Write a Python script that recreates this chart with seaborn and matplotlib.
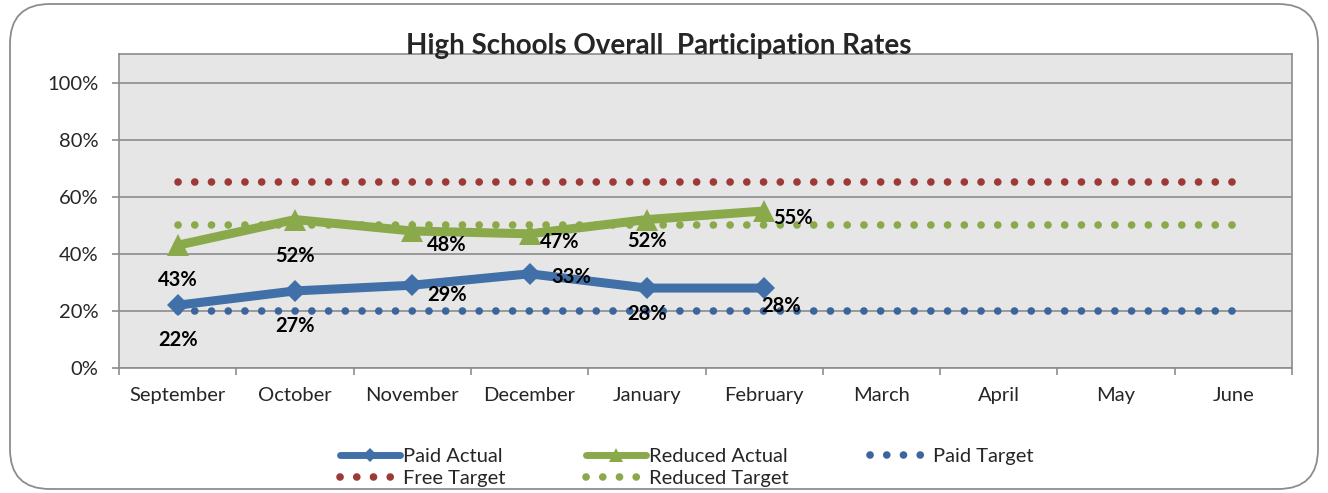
import numpy as np
import pandas as pd
import matplotlib
matplotlib.use('Agg')
import matplotlib.pyplot as plt
import seaborn as sns
from matplotlib.patches import FancyBboxPatch
from matplotlib.ticker import FixedLocator, PercentFormatter

# data
months = ['September', 'October', 'November', 'December', 'January',
          'February', 'March', 'April', 'May', 'June']
paid_actual = [0.22, 0.27, 0.29, 0.33, 0.28, 0.28]
reduced_actual = [0.43, 0.52, 0.48, 0.47, 0.52, 0.55]
paid_target = [0.20, 0.20, 0.20, 0.20, 0.20, 0.20, 0.20, 0.20, 0.20, 0.20]
free_target = [0.65, 0.65, 0.65, 0.65, 0.65, 0.65, 0.65, 0.65, 0.65, 0.65]
reduced_target = [0.50, 0.50, 0.50, 0.50, 0.50, 0.50, 0.50, 0.50, 0.50, 0.50]

BLUE = '#4170a8'
GREEN = '#8aa94b'
RED = '#9b3a37'
DBLUE = '#3b659c'

sns.set_theme(style='white')
plt.rcParams['font.family'] = ['Lato', 'DejaVu Sans']

fig = plt.figure(figsize=(13.28, 4.93), dpi=100)
ax = fig.add_axes([119 / 1328, 1 - 368 / 493, (1292 - 119) / 1328, (368 - 54) / 493])
ax.set_facecolor('#e6e6e6')

x_all = np.arange(len(months))
df_t = pd.DataFrame({'x': x_all, 'paid': paid_target, 'free': free_target,
                     'reduced': reduced_target})
df_a = pd.DataFrame({'x': x_all[:len(paid_actual)], 'paid': paid_actual,
                     'reduced': reduced_actual})

dot = (0, (0.01, 2.18))
sns.lineplot(data=df_t, x='x', y='paid', ax=ax, color=DBLUE, lw=5.5, linestyle=dot,
             dash_capstyle='round', label='Paid Target', zorder=2)
sns.lineplot(data=df_t, x='x', y='free', ax=ax, color=RED, lw=5.5, linestyle=dot,
             dash_capstyle='round', label='Free Target', zorder=2)
sns.lineplot(data=df_t, x='x', y='reduced', ax=ax, color=GREEN, lw=5.5, linestyle=dot,
             dash_capstyle='round', label='Reduced Target', zorder=2)
sns.lineplot(data=df_a, x='x', y='paid', ax=ax, color=BLUE, lw=6.5, marker='D',
             markersize=11, markeredgewidth=0, label='Paid Actual', zorder=3)
sns.lineplot(data=df_a, x='x', y='reduced', ax=ax, color=GREEN, lw=6.5, marker='^',
             markersize=16, markeredgewidth=0, label='Reduced Actual', zorder=3)

# label offsets in pixels (dx, dy)
paid_off = [(0, -35), (0, -35), (35, -10), (42, -3), (0, -26), (17, -18)]
red_off = [(0, -35), (0, -36), (35, -14), (30, -8), (0, -21), (29, -7)]
for xs, vals, offs in [(df_a['x'], paid_actual, paid_off),
                       (df_a['x'], reduced_actual, red_off)]:
    for xi, v, (dx, dy) in zip(xs, vals, offs):
        ax.annotate(f'{v:.0%}', (xi, v), xytext=(dx, dy), textcoords='offset pixels',
                    ha='center', va='center', fontsize=14.5, fontweight='bold',
                    color='black', zorder=5)

ax.set_xlim(-0.5, len(months) - 0.5)
ax.set_ylim(0, 1.1)
ax.set_yticks([0, 0.2, 0.4, 0.6, 0.8, 1.0])
ax.yaxis.set_major_formatter(PercentFormatter(1.0, decimals=0))
ax.set_xticks(x_all)
ax.set_xticklabels(months)
ax.xaxis.set_minor_locator(FixedLocator(np.arange(-0.5, len(months), 1.0)))
ax.tick_params(axis='x', which='major', length=0, pad=14, labelsize=14.5)
ax.tick_params(axis='x', which='minor', length=5, width=1.2, color='#8c8c8c',
               direction='out', bottom=True)
ax.tick_params(axis='y', length=5, width=1.2, color='#8c8c8c', direction='out',
               left=True, pad=10, labelsize=14.5)
ax.grid(axis='y', color='#8c8c8c', lw=1.2)
ax.set_axisbelow(True)
ax.set_xlabel('')
ax.set_ylabel('')
for s in ax.spines.values():
    s.set_color('#8c8c8c')
    s.set_linewidth(1.2)

ax.get_legend().remove()
h, l = ax.get_legend_handles_labels()
order = ['Paid Actual', 'Free Target', 'Reduced Actual', 'Reduced Target', 'Paid Target']
hl = dict(zip(l, h))
leg = fig.legend([hl[k] for k in order], order, ncol=3, loc='center',
                 bbox_to_anchor=(0.517, 0.052), frameon=False, fontsize=14.5,
                 handlelength=3.0, handletextpad=0.15, columnspacing=4.0,
                 labelspacing=0.25)
for ln in leg.get_lines():
    if ln.get_marker() not in (None, 'None', ''):
        ln.set_markersize(7 if ln.get_marker() == 'D' else 10)
        ln.set_linewidth(5)

fig.text(0.496, 1 - 46 / 493, 'High Schools Overall  Participation Rates',
         ha='center', va='center', fontsize=20, fontweight='bold')

fig.patches.append(FancyBboxPatch((10 / 1328, 4 / 493), 1308 / 1328, 485 / 493,
                                  boxstyle='round,pad=0,rounding_size=0.03',
                                  transform=fig.transFigure, fill=False,
                                  edgecolor='#8c8c8c', lw=1.3, mutation_aspect=2.7))

fig.savefig('out.png', dpi=100)
